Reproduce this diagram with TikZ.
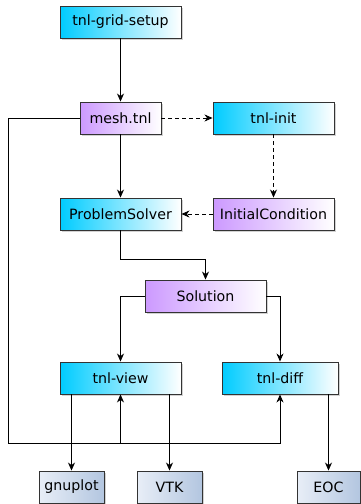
\documentclass[tikz,border=0pt]{standalone}
\usepackage{fontspec}
\setmainfont{DejaVu Sans}
\usetikzlibrary{arrows.meta,shadows}
\definecolor{bluec}{HTML}{00CCFF}
\definecolor{purpc}{HTML}{CC99FF}
\definecolor{greyl}{HTML}{E8EEF7}
\definecolor{greyr}{HTML}{B3C6E0}
\begin{document}
\begin{tikzpicture}[x=1pt,y=-1pt,
  font=\fontsize{14.2}{17}\selectfont,
  box/.style={draw=black!80, line width=0.9pt, minimum height=32pt, inner sep=0pt,
    drop shadow={shadow xshift=1.6pt, shadow yshift=-1.6pt, fill=black!35}},
  bluebox/.style={box, minimum width=121pt, left color=bluec, right color=white},
  purpbox/.style={box, left color=purpc, right color=white},
  greybox/.style={box, minimum width=65pt, left color=greyl, right color=greyr},
  conn/.style={line width=0.9pt, -{Stealth[length=8pt,width=7pt,inset=2.5pt]}},
  dconn/.style={conn, dash pattern=on 4pt off 3pt},
  plain/.style={line width=0.9pt}]
\useasboundingbox (0,0) rectangle (360,504);
\node[bluebox] (grid) at (120.5,22) {tnl-grid-setup};
\node[purpbox, minimum width=81pt] (mesh) at (120.5,118) {mesh.tnl};
\node[bluebox] (init) at (273.5,118) {tnl-init};
\node[bluebox] (ps) at (120.5,214) {ProblemSolver};
\node[purpbox, minimum width=121pt] (ic) at (273.5,214) {InitialCondition};
\node[purpbox, minimum width=121pt] (sol) at (205.5,296) {Solution};
\node[bluebox] (view) at (120.5,378) {tnl-view};
\node[bluebox, minimum width=116pt] (diff) at (280,378) {tnl-diff};
\node[greybox] (gnu) at (71.5,487) {gnuplot};
\node[greybox] (vtk) at (169.5,487) {VTK};
\node[greybox, minimum width=63pt] (eoc) at (328.5,487) {EOC};

\coordinate (lb) at (8,443);
\coordinate (pj) at (120.5,259);
\coordinate (jv) at (view.south |- lb);

\draw[conn] (grid.south) -- (mesh.north);
\draw[dconn] (mesh.east) -- (init.west);
\draw[dconn] (init.south) -- (ic.north);
\draw[dconn] (ic.west) -- (ps.east);
\draw[conn] (mesh.south) -- (ps.north);
\draw[conn] (ps.south) -- (pj) -| (sol.north);
\draw[conn] (sol.west) -| (view.north);
\draw[conn] (sol.east) -| (diff.north);
\draw[conn] (mesh.west) -| (lb) -| (diff.south);
\draw[conn] (jv) -- (view.south);
\draw[conn] (gnu.north |- view.south) -- (gnu.north);
\draw[conn] (vtk.north |- view.south) -- (vtk.north);
\draw[conn] (eoc.north |- diff.south) -- (eoc.north);
\end{tikzpicture}
\end{document}
